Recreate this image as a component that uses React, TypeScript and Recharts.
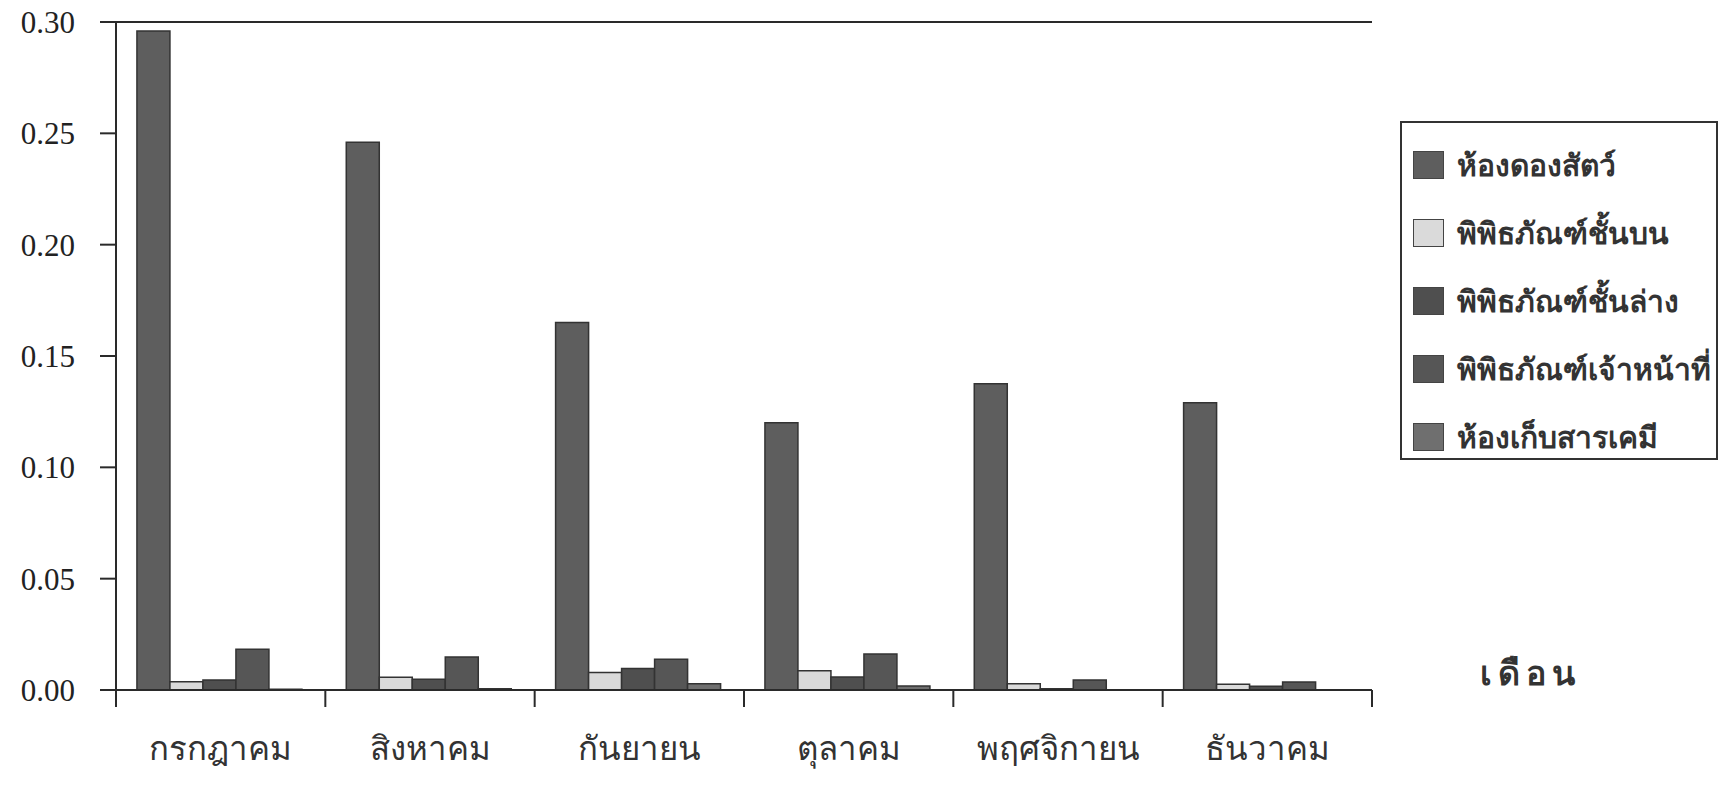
import { BarChart, Bar, XAxis, YAxis, CartesianGrid, Legend } from "recharts";

const months = ["กรกฎาคม", "สิงหาคม", "กันยายน", "ตุลาคม", "พฤศจิกายน", "ธันวาคม"];

// ห้องดองสัตว์
const animalRoom = [0.296, 0.246, 0.165, 0.12, 0.1375, 0.129];
// พิพิธภัณฑ์ชั้นบน
const museumUpper = [0.0037, 0.0057, 0.0079, 0.0087, 0.0028, 0.0026];
// พิพิธภัณฑ์ชั้นล่าง
const museumLower = [0.0045, 0.0048, 0.0097, 0.0058, 0.0006, 0.0017];
// พิพิธภัณฑ์เจ้าหน้าที่
const museumStaff = [0.0183, 0.0148, 0.0138, 0.0162, 0.0045, 0.0036];
// ห้องเก็บสารเคมี
const chemRoom = [0.0003, 0.0006, 0.0028, 0.0018, 0, 0];

const yTicks = [0, 0.05, 0.1, 0.15, 0.2, 0.25, 0.3];

const series = [
  { key: "animalRoom", name: "ห้องดองสัตว์", fill: "#5e5e5e" },
  { key: "museumUpper", name: "พิพิธภัณฑ์ชั้นบน", fill: "#dadada" },
  { key: "museumLower", name: "พิพิธภัณฑ์ชั้นล่าง", fill: "#4f4f4f" },
  { key: "museumStaff", name: "พิพิธภัณฑ์เจ้าหน้าที่", fill: "#565656" },
  { key: "chemRoom", name: "ห้องเก็บสารเคมี", fill: "#6f6f6f" },
];

const data = months.map((m, i) => ({
  month: m,
  animalRoom: animalRoom[i],
  museumUpper: museumUpper[i],
  museumLower: museumLower[i],
  museumStaff: museumStaff[i],
  chemRoom: chemRoom[i],
}));

// month label + Excel-style tick marks on the category boundaries
const MonthTick = ({ x, y, payload, width, visibleTicksCount, index }: any) => {
  const half = width / visibleTicksCount / 2;
  const isLast = index === visibleTicksCount - 1;
  return (
    <g>
      <line x1={x - half} x2={x - half} y1={y} y2={y + 17} stroke="#2a2a2a" strokeWidth={2} />
      {isLast && <line x1={x + half} x2={x + half} y1={y} y2={y + 17} stroke="#2a2a2a" strokeWidth={2} />}
      <text
        x={x}
        y={y + 70}
        textAnchor="middle"
        fontSize={33}
        fill="#333"
        fontFamily="'Noto Sans', sans-serif"
      >
        {payload.value}
      </text>
    </g>
  );
};

// legend keeps the series order (recharts would sort it by name)
const LegendBox = () => (
  <div
    style={{
      width: 318,
      height: 339,
      boxSizing: "border-box",
      border: "2px solid #333",
      background: "#fff",
      paddingTop: 8,
      paddingLeft: 11,
    }}
  >
    {series.map((s) => (
      <div key={s.key} style={{ height: 68, display: "flex", alignItems: "center" }}>
        <span
          style={{
            width: 31,
            height: 28,
            background: s.fill,
            border: "1px solid #444",
            boxSizing: "border-box",
            marginRight: 13,
            flexShrink: 0,
          }}
        />
        <span
          style={{
            fontSize: 30,
            fontWeight: "bold",
            color: "#333",
            fontFamily: "'Noto Sans', serif",
            whiteSpace: "nowrap",
          }}
        >
          {s.name}
        </span>
      </div>
    ))}
  </div>
);

export default function App() {
  return (
    <div style={{ position: "relative", width: 1720, height: 799, background: "#fff" }}>
      <style>{"body{margin:0}"}</style>
      <BarChart
        width={1720}
        height={799}
        data={data}
        margin={{ top: 22, right: 30, bottom: 29, left: 0 }}
        barCategoryGap="10%"
        barGap={0}
      >
        <CartesianGrid horizontal vertical={false} stroke="#2a2a2a" strokeWidth={2} strokeOpacity={1} />
        <XAxis
          dataKey="month"
          tick={<MonthTick />}
          tickLine={false}
          tickSize={0}
          tickMargin={0}
          axisLine={{ stroke: "#2a2a2a", strokeWidth: 2 }}
          height={80}
          interval={0}
        />
        <YAxis
          yAxisId="left"
          domain={[0, 0.3]}
          ticks={yTicks}
          tickFormatter={(v: number) => v.toFixed(2)}
          width={116}
          tickSize={16}
          tickMargin={25}
          tickLine={{ stroke: "#2a2a2a", strokeWidth: 2 }}
          axisLine={{ stroke: "#2a2a2a", strokeWidth: 2 }}
          tick={{ fontSize: 31, fill: "#222", fontFamily: "'Liberation Serif', serif" }}
          interval={0}
        />
        <YAxis
          yAxisId="right"
          orientation="right"
          domain={[0, 0.3]}
          tick={false}
          tickLine={false}
          axisLine={{ stroke: "#2a2a2a", strokeWidth: 2 }}
          width={0}
        />
        <Legend
          layout="vertical"
          align="right"
          verticalAlign="top"
          wrapperStyle={{ left: 1400, top: 121, width: 318 }}
          content={<LegendBox />}
        />
        {series.map((s) => (
          <Bar
            key={s.key}
            dataKey={s.key}
            name={s.name}
            fill={s.fill}
            stroke="#333"
            strokeWidth={1.5}
            yAxisId="left"
            isAnimationActive={false}
          />
        ))}
      </BarChart>
      <div
        style={{
          position: "absolute",
          left: 1480,
          top: 646,
          fontSize: 34,
          fontWeight: "bold",
          color: "#333",
          letterSpacing: 6,
          fontFamily: "'Noto Sans', sans-serif",
        }}
      >
        เดือน
      </div>
    </div>
  );
}
